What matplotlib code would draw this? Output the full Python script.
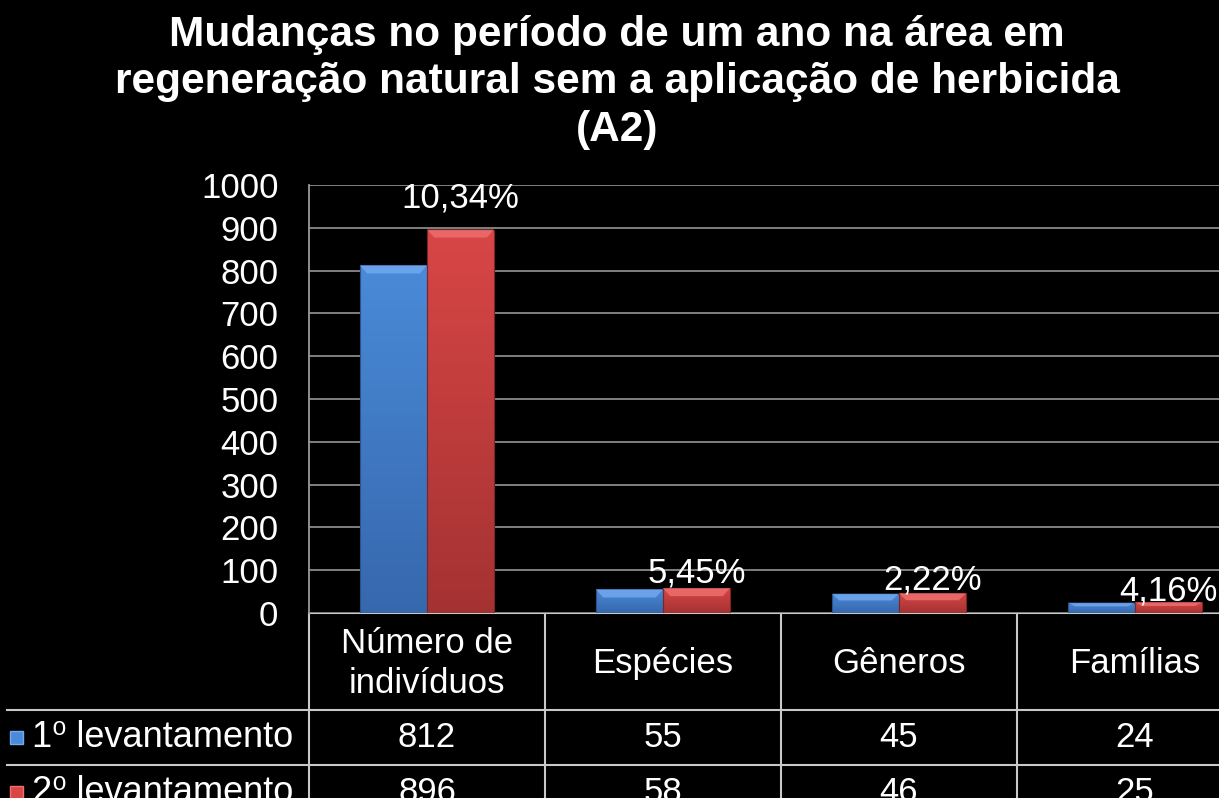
import numpy as np
import matplotlib
matplotlib.use("Agg")
import matplotlib.pyplot as plt
from matplotlib.patches import Rectangle, Polygon
from matplotlib.colors import LinearSegmentedColormap
from matplotlib import transforms

plt.rcParams['font.family'] = ['Liberation Sans', 'DejaVu Sans']

# dados
categorias = ["Número de\nindivíduos", "Espécies", "Gêneros", "Famílias"]
serie_nomes = ["1⁰ levantamento", "2⁰ levantamento"]
levantamento_1 = [812, 55, 45, 24]
levantamento_2 = [896, 58, 46, 25]
percentuais = ["10,34%", "5,45%", "2,22%", "4,16%"]
titulo = ("Mudanças no período de um ano na área em\n"
          "regeneração natural sem a aplicação de herbicida\n(A2)")

W, H = 1219, 798


def rect_px(left, top, right, bottom):
    return [left / W, 1 - bottom / H, (right - left) / W, (bottom - top) / H]


fig = plt.figure(figsize=(W / 100, H / 100), dpi=100, facecolor='black')

# eixo "tabela" em pixels
axt = fig.add_axes([0, 0, 1, 1])
axt.set_xlim(0, W)
axt.set_ylim(H, 0)
axt.axis('off')
axt.set_facecolor('none')

ax = fig.add_axes(rect_px(309, 185, 1253, 613))
ax.set_facecolor('black')
ax.set_xlim(-0.5, 3.5)
ax.set_ylim(0, 1000)
ax.set_yticks(np.arange(0, 1001, 100))
ax.set_xticks([])
ax.tick_params(axis='y', length=0, pad=22, labelsize=25, labelcolor='white')
ax.grid(axis='y', color='#8a8a8a', lw=1.3, zorder=0)
ax.set_axisbelow(True)
for s in ['top', 'right', 'bottom']:
    ax.spines[s].set_visible(False)
ax.spines['left'].set_color('#9a9a9a')
ax.spines['left'].set_linewidth(1.3)

cores = [
    {'topo': '#4a8ad8', 'base': '#3668ad', 'bisel': '#74aaf0', 'borda': '#2a5288'},
    {'topo': '#d84646', 'base': '#a53232', 'bisel': '#f07070', 'borda': '#7e2424'},
]
largura = 0.283
deslocs = [-0.142, 0.142]
px_por_unidade = 428 / 1000.0
grad = np.linspace(0, 1, 64).reshape(-1, 1)

for serie, cor, dx in zip([levantamento_1, levantamento_2], cores, deslocs):
    cmap = LinearSegmentedColormap.from_list('g', [cor['topo'], cor['base']])
    for i, v in enumerate(serie):
        x0 = i + dx - largura / 2
        r = Rectangle((x0, 0), largura, v, facecolor='none',
                      edgecolor=cor['borda'], lw=0.8, zorder=3)
        ax.add_patch(r)
        im = ax.imshow(grad, extent=[x0, x0 + largura, 0, v], aspect='auto',
                       cmap=cmap, origin='upper', zorder=2)
        im.set_clip_path(r)
        dy = min(8 / px_por_unidade, 0.35 * v)
        ins = 0.03
        ax.add_patch(Polygon([(x0, v), (x0 + largura, v),
                              (x0 + largura - ins, v - dy), (x0 + ins, v - dy)],
                             closed=True, facecolor=cor['bisel'], edgecolor='none',
                             alpha=0.8, zorder=3))

ax.set_xlim(-0.5, 3.5)
ax.set_ylim(0, 1000)

# rótulos percentuais sobre a barra vermelha
folgas_px = [22, 6, 4, 2]
for i, (txt, v) in enumerate(zip(percentuais, levantamento_2)):
    ax.annotate(txt, (i + deslocs[1], v), xytext=(0, folgas_px[i] * 0.72),
                textcoords='offset points', ha='center', va='baseline',
                color='white', fontsize=25, zorder=5)

# título
fig.text(617 / W, 1 - 15 / H, titulo, ha='center', va='top', color='white',
         fontsize=30.5, fontweight='bold', linespacing=1.24)

# tabela de dados
tr = transforms.blended_transform_factory(ax.transData, axt.transData)
cor_linha = '#c8c8c8'
y_cab, y_l1, y_l2, y_fim = 613, 710, 765, 820
axt.plot([-0.5, 3.5], [y_cab, y_cab], color=cor_linha, lw=1.5, transform=tr,
         clip_on=False)
for y in [y_l1, y_l2]:
    axt.plot([7, 309], [y, y], color=cor_linha, lw=1.5, clip_on=False)
    axt.plot([-0.5, 3.5], [y, y], color=cor_linha, lw=1.5, transform=tr,
             clip_on=False)
for xb in np.arange(-0.5, 3.6, 1.0):
    axt.plot([xb, xb], [y_cab, y_fim], color=cor_linha, lw=1.5, transform=tr,
             clip_on=False)

for i, cat in enumerate(categorias):
    axt.text(i, (y_cab + y_l1) / 2 + 2, cat, transform=tr, ha='center',
             va='center', color='white', fontsize=25, linespacing=1.28)

for nome, serie, cor, yl, yh in zip(serie_nomes, [levantamento_1, levantamento_2],
                                    cores, [y_l1, y_l2], [y_l2, y_fim]):
    yc = (yl + yh) / 2
    axt.add_patch(Rectangle((10, yc - 6.5), 13, 13, facecolor=cor['topo'],
                            edgecolor=cor['bisel'], lw=1))
    axt.text(32, yc, nome, ha='left', va='center', color='white', fontsize=26)
    for i, v in enumerate(serie):
        axt.text(i, yc, str(v), transform=tr, ha='center', va='center',
                 color='white', fontsize=25)

fig.savefig('out.png', dpi=100, facecolor='black')
